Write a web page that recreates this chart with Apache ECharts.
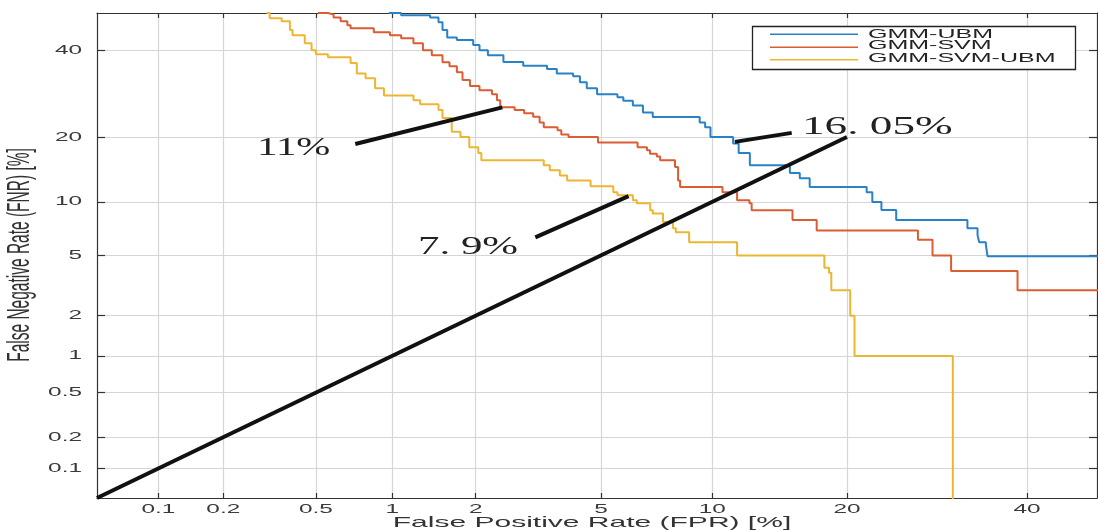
<!DOCTYPE html>
<html><head><meta charset="utf-8">
<script src="https://cdn.jsdelivr.net/npm/echarts@6/dist/echarts.min.js"></script>
<style>html,body{margin:0;padding:0;background:#fff}#c{width:1098px;height:530px}</style>
</head><body><div id="c"></div>
<script>
// ---- data (percent values) ----
const tickValues = [0.1, 0.2, 0.5, 1, 2, 5, 10, 20, 40];
const tickLabels = ['0.1', '0.2', '0.5', '1', '2', '5', '10', '20', '40'];
const seriesNames = ['GMM-UBM', 'GMM-SVM', 'GMM-SVM-UBM'];

const ubmFPR = [0.97,1.08,1.38,1.48,1.53,1.59,1.72,1.96,2.06,2.2,2.48,2.88,3.43,3.68,4.13,4.33,4.54,4.87,5.58,5.8,6.17,6.58,7.0,9.3,9.6,9.9,11.25,11.6,12.33,15.2,15.97,16.77,21.85,22.4,23.3,24.8,32.7,33.9,34.1,34.9,35.1,50];
const ubmFNR = [50,49.4,48.8,47.5,45.4,43.4,42.7,41.4,40.0,38.7,37.0,36.0,35.2,34.1,33.4,31.9,30.5,29.1,28.4,27.6,26.5,25.0,24.0,22.9,21.9,20.0,18.8,17.1,15.1,13.9,13.1,11.9,11.2,10.0,9.06,8.0,7.2,6.6,6.0,5.8,4.95,4.95];

const svmFPR = [0.51,0.56,0.59,0.63,0.67,0.69,0.85,0.98,1.08,1.2,1.3,1.4,1.53,1.62,1.72,1.8,1.91,2.06,2.27,2.36,2.42,2.7,2.9,3.1,3.25,3.35,3.7,3.8,4.0,4.9,6.36,6.75,6.88,7.18,7.33,8.03,8.18,8.28,10.6,11.5,12.3,12.45,15.4,17.35,27.1,28.7,30.8,38.8,50];
const svmFNR = [50,49.6,48.8,47.8,46.7,45.9,44.8,44,43.2,41.9,40,38.7,36.9,35.9,34.4,32.5,31,30,29.1,27.7,26.1,25.5,24.8,24.1,22.9,21.9,21.3,20.5,20.0,19.0,18.1,17.6,17,16.5,15.9,14.8,12.8,11.9,11.2,10.2,9.85,9.05,8.0,7.0,6.2,5.0,4.0,3.0,3.0];

const svmUbmFPR = [0.31,0.32,0.36,0.39,0.40,0.45,0.48,0.50,0.56,0.69,0.73,0.79,0.86,0.93,1.2,1.27,1.48,1.53,1.65,1.77,1.9,2.04,2.09,3.35,3.5,3.76,3.96,4.66,5.43,5.58,6.17,6.33,6.89,7.0,7.46,7.93,8.07,8.74,11.5,18.0,18.4,18.6,20.3,20.7,31];
const svmUbmFNR = [50,48.6,47.8,45.4,44,41.9,40,39,38.2,36.7,34.1,32.9,30.5,28.8,27.7,26.8,25.5,23.8,21,20,18.1,17.1,15.9,15.1,14.3,13.5,12.8,12,11.2,10.8,10.2,9.85,9.03,8.7,7.8,7.2,6.85,6.0,5.0,4.2,3.9,3.0,2.0,1.0,0.01];

const diagFPR = [0.05, 20];
const diagFNR = [0.05, 20];

const annoTexts = ['11%', '7. 9%', '16. 05%'];
const annoFromFPR = [0.72, 3.15, 11.36];
const annoFromFNR = [18.7, 6.4, 19.1];
const annoToFPR = [2.46, 6.0, 15.34];
const annoToFNR = [26.1, 10.7, 20.8];

// ---- normal deviate scale ----
function probit(p){
  const a=[-3.969683028665376e+01,2.209460984245205e+02,-2.759285104469687e+02,1.383577518672690e+02,-3.066479806614716e+01,2.506628277459239e+00];
  const b=[-5.447609879822406e+01,1.615858368580409e+02,-1.556989798598866e+02,6.680131188771972e+01,-1.328068155288572e+01];
  const c=[-7.784894002430293e-03,-3.223964580411365e-01,-2.400758277161838e+00,-2.549732539343734e+00,4.374664141464968e+00,2.938163982698783e+00];
  const d=[7.784695709041462e-03,3.224671290700398e-01,2.445134137142996e+00,3.754408661907416e+00];
  const pl=0.02425, ph=1-pl; let q,r;
  if(p<pl){q=Math.sqrt(-2*Math.log(p));return (((((c[0]*q+c[1])*q+c[2])*q+c[3])*q+c[4])*q+c[5])/((((d[0]*q+d[1])*q+d[2])*q+d[3])*q+1);}
  if(p<=ph){q=p-0.5;r=q*q;return (((((a[0]*r+a[1])*r+a[2])*r+a[3])*r+a[4])*r+a[5])*q/(((((b[0]*r+b[1])*r+b[2])*r+b[3])*r+b[4])*r+1);}
  q=Math.sqrt(-2*Math.log(1-p));return -(((((c[0]*q+c[1])*q+c[2])*q+c[3])*q+c[4])*q+c[5])/((((d[0]*q+d[1])*q+d[2])*q+d[3])*q+1);
}
const P = v => probit(v / 100);
const pts = (xs, ys) => xs.map((x, i) => [P(x), P(ys[i])]);

const colors = ['#2a82c6', '#da5d33', '#edb632'];
const X_MIN = P(0.05), X_MAX = P(49), Y_MIN = P(0.05), Y_MAX = P(50);
const tickP = tickValues.map(P);
const axisColor = '#333';

function xAx(pos, grid) {
  return {
    type: 'value', position: pos, min: X_MIN, max: X_MAX,
    axisLine: { show: true, onZero: false, lineStyle: { color: axisColor, width: 1.2 } },
    axisTick: { show: true, inside: true, length: 5, customValues: tickP, lineStyle: { color: axisColor, width: 1.2 } },
    axisLabel: { show: false },
    splitLine: { show: grid, lineStyle: { color: '#d6d6d6', width: 1.2 } }
  };
}
function yAx(pos, grid) {
  return {
    type: 'value', position: pos, min: Y_MIN, max: Y_MAX,
    axisLine: { show: true, onZero: false, lineStyle: { color: axisColor, width: 1.2 } },
    axisTick: { show: true, inside: true, length: 8, customValues: tickP, lineStyle: { color: axisColor, width: 1.2 } },
    axisLabel: { show: false },
    splitLine: { show: grid, lineStyle: { color: '#d6d6d6', width: 1.2 } }
  };
}

const curveSets = [[ubmFPR, ubmFNR], [svmFPR, svmFNR], [svmUbmFPR, svmUbmFNR]];
const series = curveSets.map((s, i) => ({
  name: seriesNames[i], type: 'line', step: 'end', showSymbol: false, symbol: 'none',
  data: pts(s[0], s[1]), lineStyle: { color: colors[i], width: 2 }, itemStyle: { color: colors[i] },
  z: 3, animation: false
}));
series.push({
  name: 'FPR = FNR', type: 'line', showSymbol: false, symbol: 'none',
  data: pts(diagFPR, diagFNR), lineStyle: { color: '#111', width: 4 }, z: 5, animation: false
});
annoTexts.forEach((t, i) => {
  series.push({
    name: 'anno ' + t, type: 'line', showSymbol: false, symbol: 'none',
    data: [[P(annoFromFPR[i]), P(annoFromFNR[i])], [P(annoToFPR[i]), P(annoToFNR[i])]],
    lineStyle: { color: '#111', width: 4 }, z: 5, animation: false
  });
});

const chart = echarts.init(document.getElementById('c'), null, { renderer: 'canvas' });
chart.setOption({
  backgroundColor: '#fff',
  animation: false,
  grid: { left: 97, right: 1, top: 13, bottom: 32, containLabel: false },
  xAxis: [xAx('bottom', true), xAx('top', false)],
  yAxis: [yAx('left', true), yAx('right', false)],
  series: series
});

// ---- texts (stretched horizontally like the reference) ----
const g = [];
const SANS = '"Liberation Sans", Arial, sans-serif';
tickValues.forEach((v, i) => {
  const x = chart.convertToPixel({ xAxisIndex: 0 }, P(v));
  g.push({ type: 'text', x: x, y: 509.5, scaleX: 1.95, silent: true,
    style: { text: tickLabels[i], font: '12.5px ' + SANS, fill: '#3a3a3a', textAlign: 'center', textVerticalAlign: 'middle' } });
  const y = chart.convertToPixel({ yAxisIndex: 0 }, P(v));
  g.push({ type: 'text', x: 82, y: y, scaleX: 1.95, silent: true,
    style: { text: tickLabels[i], font: '12.5px ' + SANS, fill: '#3a3a3a', textAlign: 'right', textVerticalAlign: 'middle' } });
});
g.push({ type: 'text', x: 592, y: 522.5, scaleX: 2, silent: true,
  style: { text: 'False Positive Rate (FPR) [%]', font: '15px ' + SANS, fill: '#333', textAlign: 'center', textVerticalAlign: 'middle' } });
g.push({ type: 'text', x: 20, y: 255, rotation: Math.PI / 2, scaleY: 2, silent: true,
  style: { text: 'False Negative Rate (FNR) [%]', font: '15.5px ' + SANS, fill: '#333', textAlign: 'center', textVerticalAlign: 'middle' } });

// annotation labels
const annoPos = [[257, 148.5, 1.57], [418, 247.5, 1.65], [802, 127.5, 1.74]];
annoTexts.forEach((t, i) => {
  g.push({ type: 'text', x: annoPos[i][0], y: annoPos[i][1], scaleX: annoPos[i][2], z: 10, silent: true,
    style: { text: t, font: '26px "Liberation Serif", "Times New Roman", serif', fill: '#222', textAlign: 'left', textVerticalAlign: 'middle' } });
});

// legend box
g.push({ type: 'rect', z: 20, silent: true, shape: { x: 752.5, y: 26.5, width: 323, height: 43 },
  style: { fill: '#fff', stroke: '#222', lineWidth: 1.3 } });
const legY = [34.3, 47.2, 59.8];
const legTY = [34.3, 45.5, 58.5];
seriesNames.forEach((n, i) => {
  g.push({ type: 'line', z: 21, silent: true, shape: { x1: 770, y1: legY[i], x2: 858, y2: legY[i] },
    style: { stroke: colors[i], lineWidth: 1.5 } });
  g.push({ type: 'text', z: 21, silent: true, x: 868, y: legTY[i], scaleX: 2,
    style: { text: n, font: '12.5px ' + SANS, fill: '#222', textAlign: 'left', textVerticalAlign: 'middle' } });
});

chart.setOption({ graphic: g });
</script>
</body></html>
